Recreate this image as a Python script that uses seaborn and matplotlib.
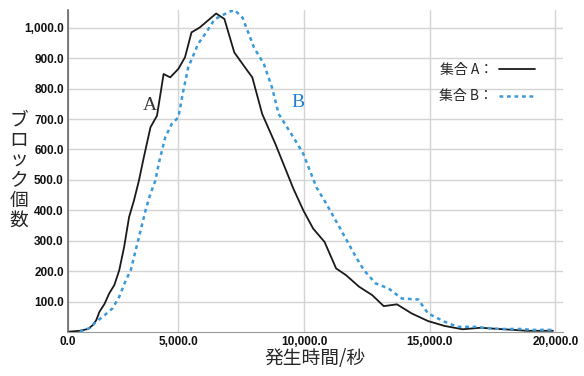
import numpy as np
import pandas as pd
import matplotlib
matplotlib.use('Agg')
import matplotlib.pyplot as plt
import seaborn as sns

# 集合A (black solid) -- time (s) and block count
time_a = [608, 1078, 1404, 1600, 1733, 1863, 2059, 2255, 2451, 2647, 2843, 3039, 3235,
          3431, 3627, 3890, 4149, 4412, 4675, 5000, 5263, 5522, 5851, 6502, 6831, 7224,
          7745, 7941, 8333, 8855, 9576, 9969, 10361, 10816, 11275, 11667, 12188, 12714,
          13169, 13694, 14282, 14933, 15588, 16306, 17027, 17549, 18333, 18855, 19902]
count_a = [1, 4, 10, 23, 39, 67, 92, 128, 154, 203, 280, 378, 433,
           498, 575, 673, 711, 848, 837, 865, 903, 985, 1001, 1047, 1029, 919,
           859, 837, 717, 619, 471, 400, 340, 296, 209, 187, 149, 121,
           85, 91, 61, 36, 20, 9, 14, 11, 7, 4, 4]

# 集合B (blue dashed)
time_b = [1078, 1471, 1733, 1992, 2384, 2647, 2910, 3106, 3302, 3498, 3694, 3890, 4086,
          4216, 4478, 4737, 5000, 5196, 5392, 5588, 5784, 6110, 6439, 6961, 7224, 7549,
          8008, 8400, 8725, 8988, 9576, 9969, 10490, 10882, 11404, 11733, 12059, 12384,
          12843, 13365, 13890, 14541, 14933, 15588, 16110, 16765, 17157, 17810, 18594,
          19118, 19902]
count_b = [1, 13, 34, 50, 78, 116, 170, 203, 269, 334, 400, 455, 498,
           553, 640, 684, 706, 793, 870, 908, 947, 985, 1028, 1050, 1059, 1034,
           935, 881, 804, 717, 640, 586, 476, 422, 345, 296, 247, 203,
           160, 143, 110, 107, 61, 34, 17, 17, 14, 10, 10,
           7, 7]

x_ticks = [5000, 10000, 15000, 20000]
y_ticks = [100, 200, 300, 400, 500, 600, 700, 800, 900, 1000]

df = pd.concat([
    pd.DataFrame({'time': time_a, 'count': count_a, 'set': 'A'}),
    pd.DataFrame({'time': time_b, 'count': count_b, 'set': 'B'}),
])

sns.set_style('whitegrid')
plt.rcParams['font.family'] = ['Liberation Sans', 'Noto Sans CJK JP']

fig = plt.figure(figsize=(5.84, 3.76), dpi=100)
ax = fig.add_axes([0.1164, 0.117, 0.8476, 0.856])

sns.lineplot(data=df[df['set'] == 'A'], x='time', y='count', color='#1a1a1a',
             linewidth=1.3, label='集合 A：', ax=ax, sort=False)
sns.lineplot(data=df[df['set'] == 'B'], x='time', y='count', color='#3a9ad9',
             linewidth=1.8, linestyle=(0, (1.5, 1.5)), label='集合 B：', ax=ax, sort=False)

x0 = 608
ax.set_xlim(x0, 20300)
ax.set_ylim(0, 1058)
ax.set_xticks([x0] + x_ticks)
ax.set_xticklabels(['0.0'] + [f'{v:,.1f}' for v in x_ticks])
ax.set_yticks(y_ticks)
ax.set_yticklabels([f'{v:,.1f}' for v in y_ticks])
ax.tick_params(axis='both', length=0, labelsize=8.5, colors='#111111', pad=3)
for lab in ax.get_xticklabels() + ax.get_yticklabels():
    lab.set_fontweight('bold')

ax.grid(True, color='#d4d4d4', linewidth=1.0)
for s in ['top', 'right']:
    ax.spines[s].set_visible(False)
ax.spines['left'].set_color('#666666')
ax.spines['left'].set_linewidth(1.2)
ax.spines['bottom'].set_color('#999999')

ax.set_xlabel('発生時間/秒', fontsize=13.5, family=['Noto Sans CJK JP'], labelpad=0)
ax.set_ylabel('')
fig.text(19 / 584, 1 - 170 / 376, '\n'.join('ブロック個数'), fontsize=13.5,
         family=['Noto Sans CJK JP'], ha='center', va='center', linespacing=0.95)

ax.text(3850, 745, 'A', fontsize=14, family=['Liberation Serif'], color='#333333',
        ha='center', va='center')
ax.text(9750, 755, 'B', fontsize=14, family=['Liberation Serif'], color='#1e7fd6',
        ha='center', va='center')

leg = ax.legend(loc='upper left', bbox_to_anchor=(0.725, 0.875), frameon=False,
                markerfirst=False, handlelength=2.6, handletextpad=0.4,
                labelspacing=0.9, prop={'family': ['Noto Sans CJK JP'], 'size': 10})

fig.savefig('out.png', dpi=100)
